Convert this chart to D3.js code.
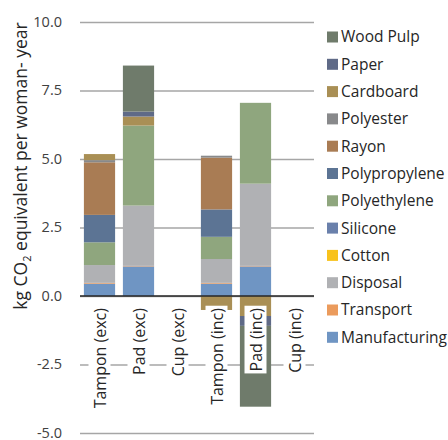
<!DOCTYPE html>
<html>
<head>
<meta charset="utf-8">
<script src="https://cdn.jsdelivr.net/npm/d3@7"></script>
<style>
  body { margin: 0; background: #fff; }
  svg { display: block; font-family: "Open Sans", "Noto Sans", sans-serif; }
</style>
</head>
<body>
<svg id="chart" width="448" height="440"></svg>
<script>
// Product options (x axis)
const categories = ["Tampon (exc)", "Pad (exc)", "Cup (exc)", "Tampon (inc)", "Pad (inc)", "Cup (inc)"];

// Emission sources, in stacking order (bottom to top)
const sources = ["Manufacturing", "Transport", "Disposal", "Cotton", "Silicone", "Polyethylene",
                 "Polypropylene", "Rayon", "Polyester", "Cardboard", "Paper", "Wood Pulp"];

const sourceColors = ["#6f95c3", "#eb9b5c", "#b0b1b4", "#f8c21c", "#6a80ab", "#8fa67e",
                      "#5c7494", "#a97c54", "#88898b", "#a98f55", "#5f6a87", "#6f7b6b"];

// kg CO2e per woman-year, one array per source, aligned with categories
const manufacturing = [0.45, 1.08, 0, 0.45, 1.08, 0];
const transport     = [0.03, 0.02, 0, 0.03, 0.02, 0];
const disposal      = [0.65, 2.20, 0, 0.87, 3.00, 0];
const cotton        = [0, 0, 0, 0, 0, 0];
const silicone      = [0, 0, 0, 0, 0, 0];
const polyethylene  = [0.83, 2.92, 0, 0.81, 2.95, 0];
const polypropylene = [1.00, 0, 0, 1.00, 0, 0];
const rayon         = [1.92, 0, 0, 1.89, 0, 0];
const polyester     = [0.08, 0, 0, 0.07, 0, 0];
const cardboard     = [0.22, 0.33, 0, -0.51, -0.73, 0];
const paper         = [0, 0.18, 0, 0, -0.36, 0];
const woodPulp      = [0, 1.68, 0, 0, -2.95, 0];

const seriesValues = [manufacturing, transport, disposal, cotton, silicone, polyethylene,
                      polypropylene, rayon, polyester, cardboard, paper, woodPulp];

const yTicks = [-5, -2.5, 0, 2.5, 5, 7.5, 10];

const rows = categories.map((c, i) => {
  const r = { category: c };
  sources.forEach((s, j) => { r[s] = seriesValues[j][i]; });
  return r;
});

const svg = d3.select("#chart");
const margin = { left: 80, right: 134 };
const W = 448;

const x = d3.scaleBand()
  .domain(categories)
  .range([margin.left, W - margin.right])
  .paddingInner(0.2)
  .paddingOuter(0.1);

const y = d3.scaleLinear()
  .domain([-5, 10])
  .range([433, 22]);

const color = d3.scaleOrdinal().domain(sources).range(sourceColors);

// Gridlines and tick labels
const fmt = d3.format(".1f");
const yAxis = d3.axisLeft(y)
  .tickValues(yTicks)
  .tickFormat(d => fmt(d).replace("\u2212", "-"))
  .tickSize(-(W - margin.right - margin.left))
  .tickPadding(18);

const gy = svg.append("g")
  .attr("transform", `translate(${margin.left},0)`)
  .call(yAxis);
gy.select(".domain").remove();
gy.selectAll(".tick line")
  .attr("stroke", "#a6a6a6")
  .attr("stroke-width", 1.5);
gy.selectAll(".tick text")
  .attr("fill", "#404040")
  .attr("font-size", 14.5)
  .attr("dy", "0.3em")
  .attr("font-family", "\"Open Sans\", sans-serif");

// Stacked bars (negative contributions stack downward)
const stacked = d3.stack()
  .keys(sources)
  .offset(d3.stackOffsetDiverging)(rows);

svg.append("g")
  .selectAll("g")
  .data(stacked)
  .join("g")
  .attr("fill", d => color(d.key))
  .selectAll("rect")
  .data(d => d)
  .join("rect")
  .attr("x", d => x(d.data.category))
  .attr("width", x.bandwidth())
  .attr("y", d => y(Math.max(d[0], d[1])))
  .attr("height", d => Math.abs(y(d[0]) - y(d[1])));

// Zero baseline
svg.append("line")
  .attr("x1", margin.left)
  .attr("x2", W - margin.right)
  .attr("y1", y(0))
  .attr("y2", y(0))
  .attr("stroke", "#262626")
  .attr("stroke-width", 1.5);

// Category labels, rotated, with white backing
const labelG = svg.append("g");
categories.forEach(c => {
  const cx = x(c) + x.bandwidth() / 2;
  const g = labelG.append("g")
    .attr("transform", `translate(${cx + 6},${y(0) + 12}) rotate(-90)`);
  const t = g.append("text")
    .attr("text-anchor", "end")
    .attr("font-size", 16)
    .attr("fill", "#262626")
    .text(c);
  const bb = t.node().getBBox();
  g.insert("rect", "text")
    .attr("x", bb.x - 2)
    .attr("y", bb.y)
    .attr("width", bb.width + 4)
    .attr("height", bb.height)
    .attr("fill", "#fff");
});

// Y axis title
const title = svg.append("text")
  .attr("transform", `translate(27,166) rotate(-90)`)
  .attr("text-anchor", "middle")
  .attr("font-size", 17.5)
  .attr("fill", "#262626");
title.append("tspan").text("kg CO");
title.append("tspan").attr("font-size", 11).attr("dy", 4).text("2");
title.append("tspan").attr("dy", -4).text(" equivalent per woman- year");

// Legend (top entry is the last stacked source)
const legendItems = sources.slice().reverse();
const legend = svg.append("g").attr("transform", "translate(327,37)");
legendItems.forEach((s, i) => {
  const g = legend.append("g").attr("transform", `translate(0,${i * 27.3})`);
  g.append("rect")
    .attr("x", 0).attr("y", -5.5)
    .attr("width", 11).attr("height", 11)
    .attr("fill", color(s));
  g.append("text")
    .attr("x", 14)
    .attr("dy", "0.35em")
    .attr("font-size", 15.5)
    .attr("fill", "#262626")
    .text(s);
});
</script>
</body>
</html>
